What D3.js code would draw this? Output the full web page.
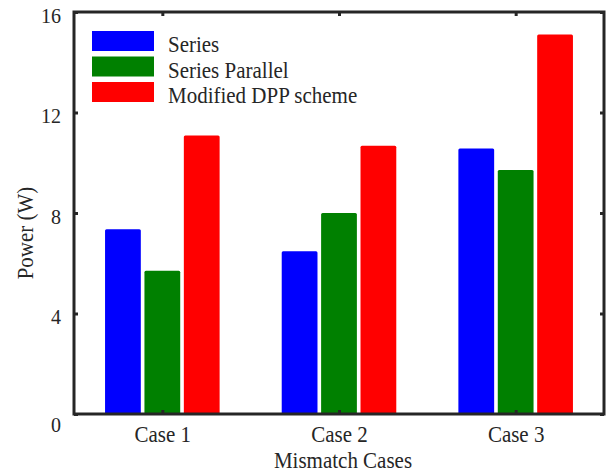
<!DOCTYPE html>
<html>
<head>
<meta charset="utf-8">
<script src="https://cdn.jsdelivr.net/npm/d3@7"></script>
<style>
  html, body { margin: 0; padding: 0; background: #fff; }
  svg { display: block; }
</style>
</head>
<body>
<script>
// ---- Data ----
const categories = ["Case 1", "Case 2", "Case 3"];
const seriesNames = ["Series", "Series Parallel", "Modified DPP scheme"];
const seriesColors = ["#0000ff", "#008000", "#ff0000"];
const seriesValues = [
  [7.35, 6.48, 10.57],   // Series
  [5.70, 8.00, 9.71],    // Series Parallel
  [11.08, 10.68, 15.10]  // Modified DPP scheme
];
const yTicks = [0, 4, 8, 12, 16];
const xLabel = "Mismatch Cases";
const yLabel = "Power (W)";

// ---- Layout ----
const W = 615, H = 474;
const mLeft = 74, mRight = 604, mTop = 12, mBottom = 414;
const FONT = '"Liberation Serif"';
const textColor = "#262626";
const SY = 1.12; // vertical stretch of text as in the reference

const svg = d3.select("body").append("svg").attr("width", W).attr("height", H)
  .attr("font-family", FONT);

const x = d3.scaleLinear().domain([0.5, categories.length + 0.5]).range([mLeft, mRight]);
const y = d3.scaleLinear().domain([0, 16]).range([mBottom, mTop]);

const offsets = [-0.223, 0, 0.223];
const barW = 0.2025;

// Bars
seriesValues.forEach((vals, si) => {
  svg.append("g").selectAll("rect").data(vals).join("rect")
    .attr("x", (d, i) => x(i + 1 + offsets[si] - barW / 2))
    .attr("width", x(1 + barW) - x(1))
    .attr("y", d => y(d))
    .attr("height", d => y(0) - y(d))
    .attr("rx", 1.5)
    .attr("fill", seriesColors[si]);
});

// Axes (inward ticks, box)
const axisColor = "#262626";
const tickLen = 4;

const gLeft = svg.append("g").attr("transform", `translate(${mLeft},0)`)
  .call(d3.axisLeft(y).tickValues(yTicks).tickSize(-tickLen).tickPadding(13).tickFormat(d3.format("d")));
const gRight = svg.append("g").attr("transform", `translate(${mRight},0)`)
  .call(d3.axisRight(y).tickValues(yTicks).tickSize(-tickLen).tickFormat(""));
const gBottom = svg.append("g").attr("transform", `translate(0,${mBottom})`)
  .call(d3.axisBottom(x).tickValues([1, 2, 3]).tickSize(-tickLen).tickPadding(12)
    .tickFormat(d => categories[d - 1]));
const gTop = svg.append("g").attr("transform", `translate(0,${mTop})`)
  .call(d3.axisTop(x).tickValues([1, 2, 3]).tickSize(-tickLen).tickFormat(""));

[gLeft, gRight, gBottom, gTop].forEach(g => {
  g.attr("font-family", FONT);
  g.select(".domain").remove();
  g.selectAll(".tick line").attr("stroke", axisColor).attr("stroke-width", 3);
});
gLeft.selectAll(".tick text").attr("font-size", 20)
  .attr("dy", d => d === 0 ? "0.85em" : "0.5em")
  .attr("fill", textColor).attr("font-family", FONT);
gBottom.selectAll(".tick text")
  .attr("y", 0).attr("dy", null)
  .attr("transform", `translate(0,28) scale(1,${SY})`)
  .attr("font-size", 21)
  .attr("fill", textColor).attr("font-family", FONT);

// Box
svg.append("rect")
  .attr("x", mLeft).attr("y", mTop)
  .attr("width", mRight - mLeft).attr("height", mBottom - mTop)
  .attr("fill", "none").attr("stroke", axisColor).attr("stroke-width", 3);

// Axis labels
svg.append("text")
  .attr("transform", `translate(${(mLeft + mRight) / 2 + 4},468) scale(1,${SY})`)
  .attr("text-anchor", "middle").attr("font-size", 21)
  .attr("font-family", FONT).attr("fill", textColor)
  .text(xLabel);

svg.append("text")
  .attr("transform", `translate(33,233) rotate(-90) scale(1,${SY})`)
  .attr("text-anchor", "middle").attr("font-size", 21)
  .attr("font-family", FONT).attr("fill", textColor)
  .text(yLabel);

// Legend
const legend = svg.append("g");
seriesNames.forEach((name, i) => {
  const yy = 31 + i * 25.5;
  legend.append("rect")
    .attr("x", 92).attr("y", yy).attr("width", 62).attr("height", 20)
    .attr("fill", seriesColors[i]);
  legend.append("text")
    .attr("transform", `translate(168,${yy + 21}) scale(1,${SY})`)
    .attr("font-size", 21)
    .attr("font-family", FONT).attr("fill", textColor)
    .text(name);
});
</script>
</body>
</html>
